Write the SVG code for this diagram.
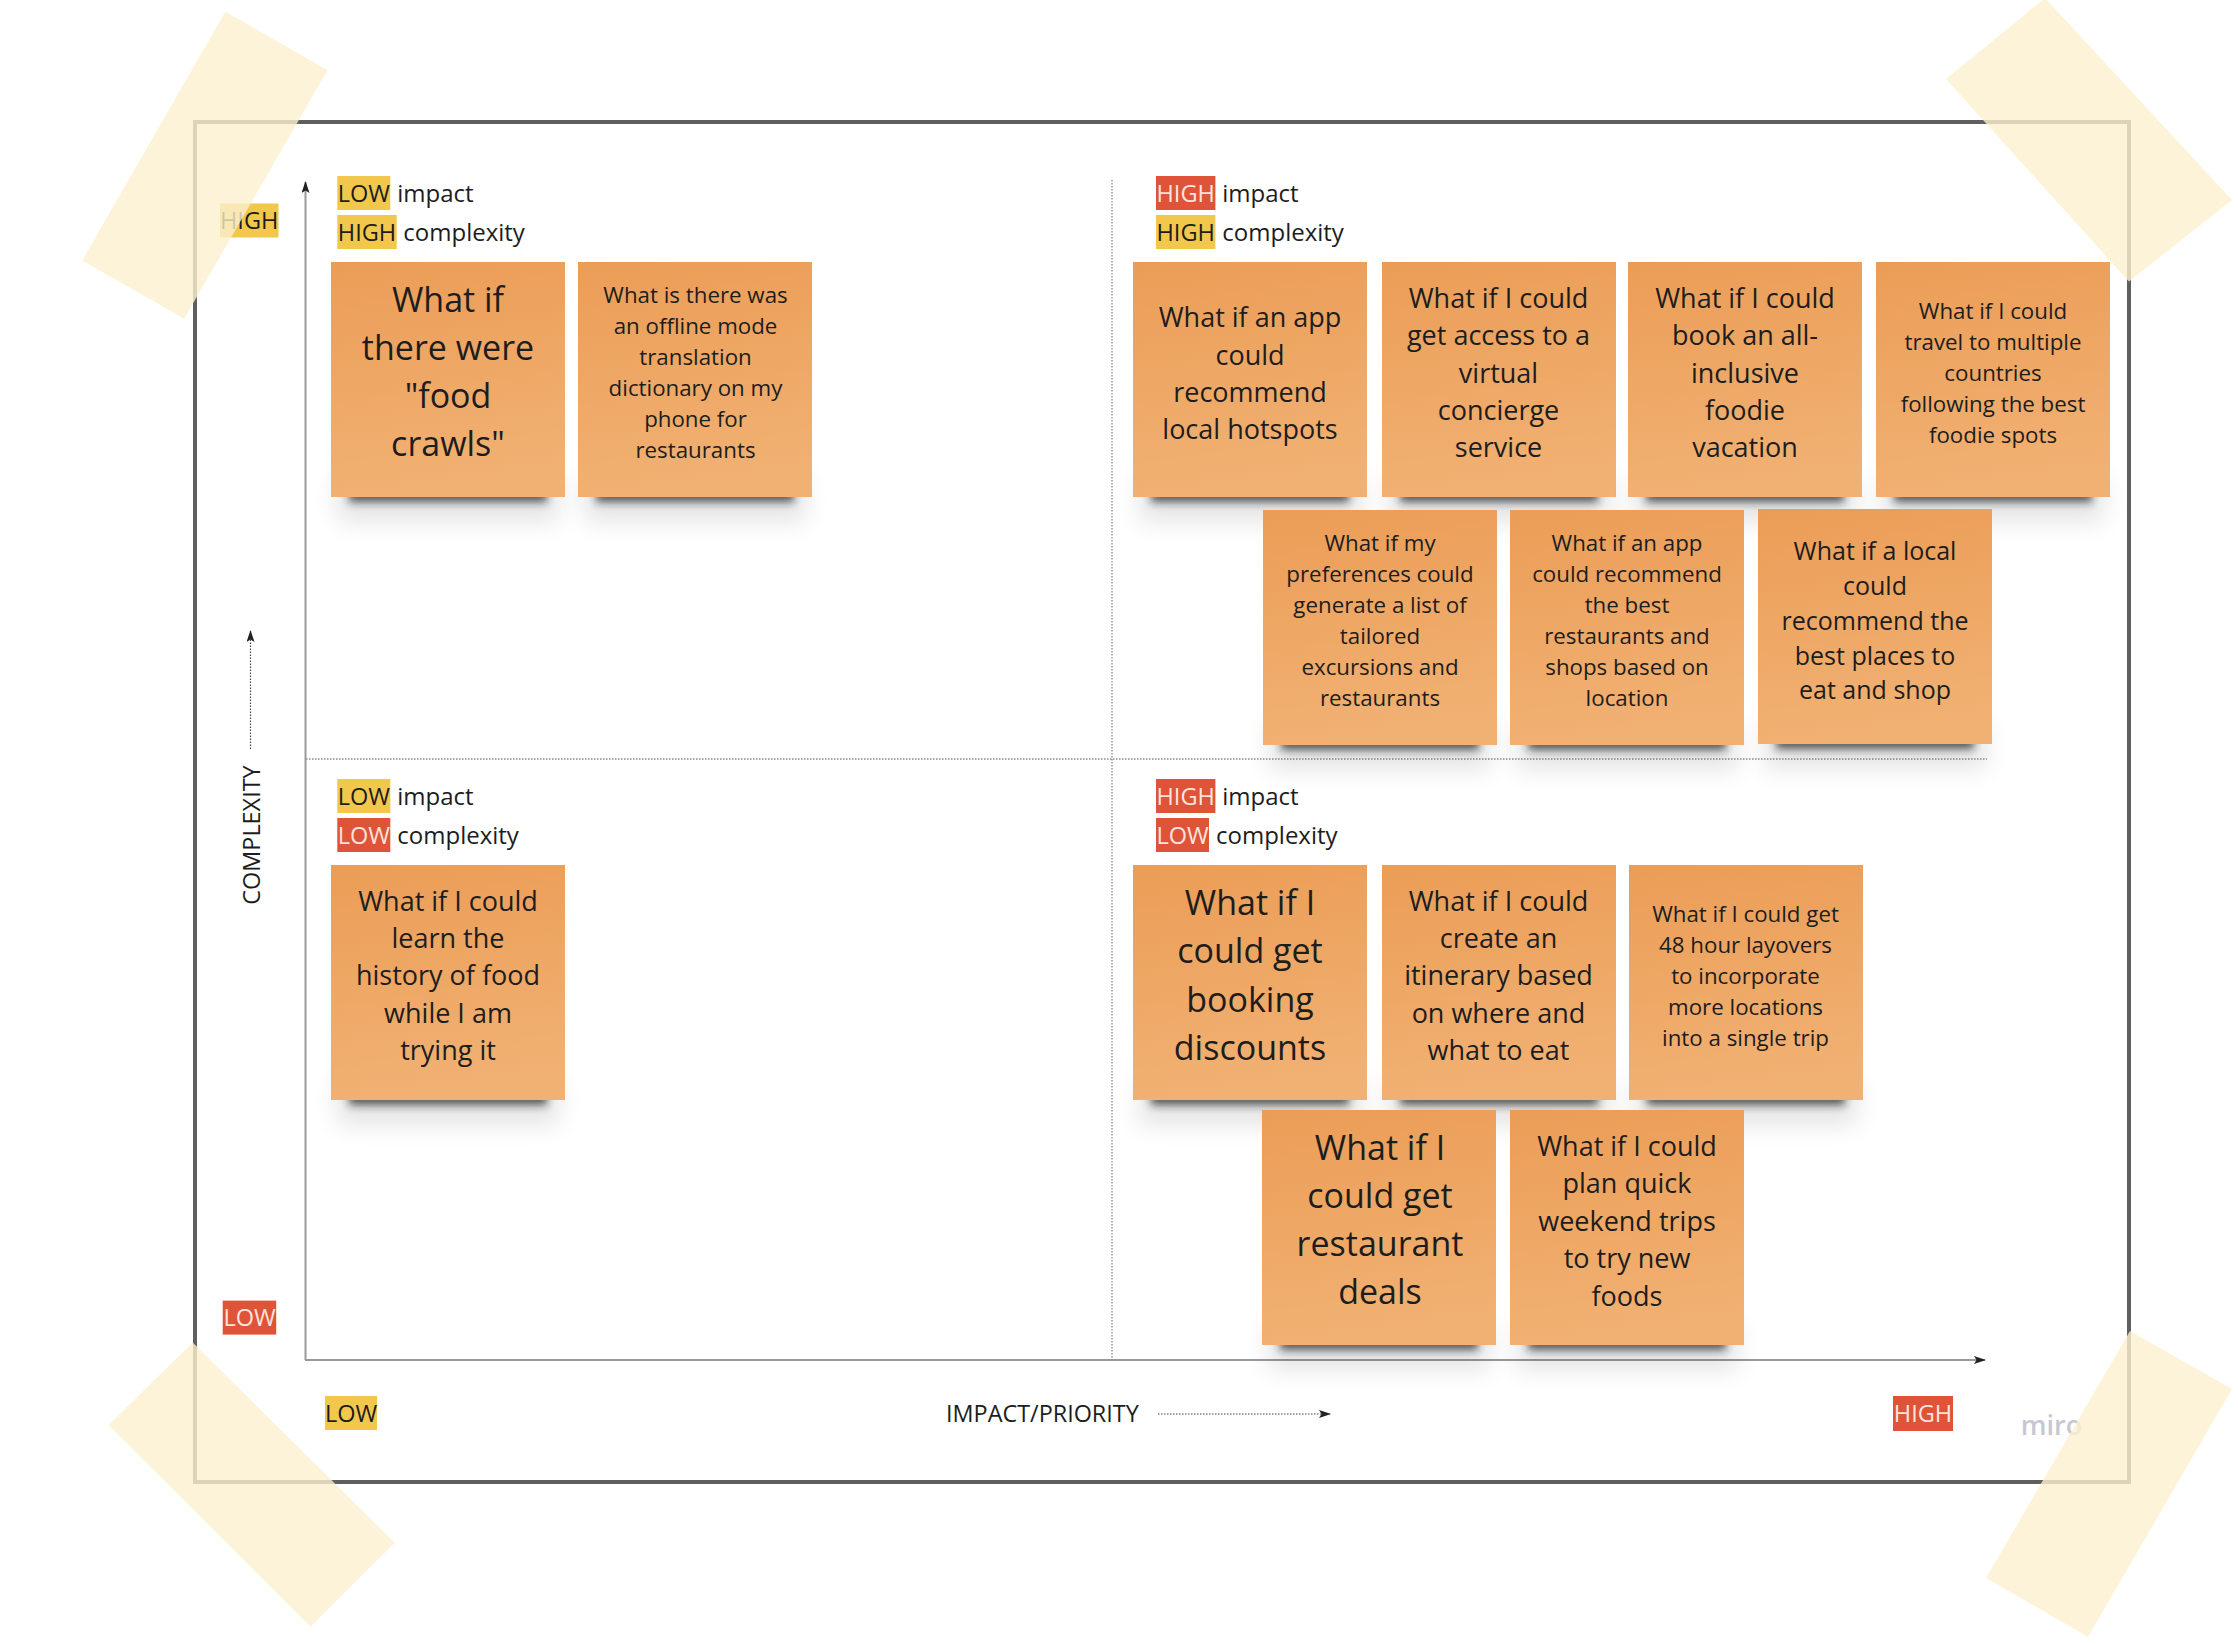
<svg xmlns="http://www.w3.org/2000/svg" width="2238" height="1644" viewBox="0 0 2238 1644">
<style>
  .t{font-family:"Open Sans","Liberation Sans",sans-serif;fill:#1d1d1d;text-anchor:middle}
  .f34{font-size:34px}
  .f27{font-size:27px}
  .f25{font-size:25px}
  .f22{font-size:22.3px}
  .hdr{font-family:"Open Sans","Liberation Sans",sans-serif;font-size:24px;fill:#1d1d1d}
  .tagtxt{font-family:"Open Sans","Liberation Sans",sans-serif;font-size:23.5px;text-anchor:middle}
  .tY{fill:#f1c84b}
  .tR{fill:#df5438}
  .dY{fill:#1d1d1d}
  .dR{fill:#fbe3de}
  .axis{stroke:#9a9a9a;stroke-width:2;fill:none}
  .div{stroke:#8a8a8a;stroke-width:1.3;stroke-dasharray:1.5 1.5;fill:none}
  .dotarr{stroke:#444;stroke-width:1.2;stroke-dasharray:1.5 1.5;fill:none}
  .lbl{font-family:"Open Sans","Liberation Sans",sans-serif;font-size:23.4px;fill:#1d1d1d}
  .tape{fill:#fbf0cf;opacity:0.8}
</style>
<defs>
  <linearGradient id="stk" x1="0" y1="0" x2="0.15" y2="1">
    <stop offset="0" stop-color="#eb9d56"/>
    <stop offset="1" stop-color="#f1b173"/>
  </linearGradient>
  <filter id="b1" x="-20%" y="-100%" width="140%" height="300%"><feGaussianBlur stdDeviation="4"/></filter>
  <filter id="b2" x="-30%" y="-100%" width="160%" height="300%"><feGaussianBlur stdDeviation="12"/></filter>
  <marker id="arr" viewBox="0 0 12 8" refX="11" refY="4" markerWidth="12" markerHeight="8" orient="auto" markerUnits="userSpaceOnUse">
    <path d="M0,0 L12,4 L0,8 L2.5,4 z" fill="#222"/>
  </marker>
  <g id="nb">
    <rect x="6" y="214" width="222" height="46" fill="#000" opacity="0.1" filter="url(#b2)"/>
    <rect x="18" y="224" width="198" height="16" fill="#1e1e1e" opacity="0.7" filter="url(#b1)"/>
    <rect x="0" y="0" width="234" height="235" fill="url(#stk)"/>
  </g>
</defs>

<rect x="0" y="0" width="2238" height="1644" fill="#ffffff"/>

<g id="frame">
  <rect x="195" y="122" width="1934" height="1360" fill="#ffffff" stroke="#5f5f5f" stroke-width="4"/>
</g>

<g id="connectors">
  <line class="div" x1="1112" y1="180" x2="1112" y2="1359"/>
  <line class="div" x1="306" y1="759" x2="1987" y2="759"/>
  <line class="axis" x1="305.5" y1="1360" x2="305.5" y2="182" marker-end="url(#arr)"/>
  <line class="axis" x1="305" y1="1360" x2="1985" y2="1360" marker-end="url(#arr)"/>
  <line class="dotarr" x1="250.5" y1="749" x2="250.5" y2="631" marker-end="url(#arr)"/>
  <line class="dotarr" x1="1158" y1="1414" x2="1330" y2="1414" marker-end="url(#arr)"/>
</g>

<g id="axis-labels">
  <text class="lbl" text-anchor="middle" transform="translate(260,835) rotate(-90)">COMPLEXITY</text>
  <text class="lbl" x="946" y="1422.3">IMPACT/PRIORITY</text>
  <rect class="tY" x="220" y="203.5" width="58.5" height="34"/>
  <text class="tagtxt dY" x="249.2" y="229">HIGH</text>
  <rect class="tR" x="222.7" y="1300.6" width="53.5" height="34"/>
  <text class="tagtxt dR" x="249.5" y="1326.3">LOW</text>
  <rect class="tY" x="325" y="1396" width="52" height="34"/>
  <text class="tagtxt dY" x="351" y="1421.7">LOW</text>
  <rect class="tR" x="1893" y="1396" width="60" height="35"/>
  <text class="tagtxt dR" x="1923" y="1422">HIGH</text>
  <text x="2020.7" y="1435" font-family="Open Sans, Liberation Sans, sans-serif" font-weight="600" font-size="27" fill="#c6c7d2">miro</text>
</g>

<g id="header-tl">
  <rect class="tY" x="337.3" y="176" width="53" height="34"/>
  <text class="tagtxt dY" x="363.8" y="201.7">LOW</text>
  <text class="hdr" x="397.3" y="201.7">impact</text>
  <rect class="tY" x="337.3" y="215" width="59.4" height="34"/>
  <text class="tagtxt dY" x="367" y="240.7">HIGH</text>
  <text class="hdr" x="403.3" y="240.7">complexity</text>
</g>
<g id="header-tr">
  <rect class="tR" x="1156" y="176" width="59.4" height="34"/>
  <text class="tagtxt dR" x="1185.7" y="201.7">HIGH</text>
  <text class="hdr" x="1222.3" y="201.7">impact</text>
  <rect class="tY" x="1156" y="215" width="59.4" height="34"/>
  <text class="tagtxt dY" x="1185.7" y="240.7">HIGH</text>
  <text class="hdr" x="1222.3" y="240.7">complexity</text>
</g>
<g id="header-bl">
  <rect class="tY" x="337.3" y="779" width="53" height="34"/>
  <text class="tagtxt dY" x="363.8" y="804.7">LOW</text>
  <text class="hdr" x="397.3" y="804.7">impact</text>
  <rect class="tR" x="337.3" y="818" width="53" height="34"/>
  <text class="tagtxt dR" x="363.8" y="843.7">LOW</text>
  <text class="hdr" x="397.3" y="843.7">complexity</text>
</g>
<g id="header-br">
  <rect class="tR" x="1156" y="779" width="59.4" height="34"/>
  <text class="tagtxt dR" x="1185.7" y="804.7">HIGH</text>
  <text class="hdr" x="1222.3" y="804.7">impact</text>
  <rect class="tR" x="1156" y="818" width="53" height="34"/>
  <text class="tagtxt dR" x="1182.5" y="843.7">LOW</text>
  <text class="hdr" x="1216" y="843.7">complexity</text>
</g>

<g id="note-food-crawls">
  <use href="#nb" x="331" y="262"/>
  <text class="t f34"><tspan x="448" y="311.7">What if</tspan><tspan x="448" y="360">there were</tspan><tspan x="448" y="408.3">"food</tspan><tspan x="448" y="456.4">crawls"</tspan></text>
</g>
<g id="note-offline-dictionary">
  <use href="#nb" x="578" y="262"/>
  <text class="t f22"><tspan x="695.5" y="302.7">What is there was</tspan><tspan x="695.5" y="333.5">an offline mode</tspan><tspan x="695.5" y="364.5">translation</tspan><tspan x="695.5" y="395.5">dictionary on my</tspan><tspan x="695.5" y="426.5">phone for</tspan><tspan x="695.5" y="457.5">restaurants</tspan></text>
</g>

<g id="note-local-hotspots">
  <use href="#nb" x="1133" y="262"/>
  <text class="t f27"><tspan x="1250" y="327.2">What if an app</tspan><tspan x="1250" y="364.5">could</tspan><tspan x="1250" y="401.8">recommend</tspan><tspan x="1250" y="439.1">local hotspots</tspan></text>
</g>
<g id="note-concierge">
  <use href="#nb" x="1382" y="262"/>
  <text class="t f27"><tspan x="1498.5" y="307.8">What if I could</tspan><tspan x="1498.5" y="345.2">get access to a</tspan><tspan x="1498.5" y="382.6">virtual</tspan><tspan x="1498.5" y="420">concierge</tspan><tspan x="1498.5" y="457.4">service</tspan></text>
</g>
<g id="note-all-inclusive">
  <use href="#nb" x="1628" y="262"/>
  <text class="t f27"><tspan x="1745" y="307.8">What if I could</tspan><tspan x="1745" y="345.2">book an all-</tspan><tspan x="1745" y="382.6">inclusive</tspan><tspan x="1745" y="420">foodie</tspan><tspan x="1745" y="457.4">vacation</tspan></text>
</g>
<g id="note-multiple-countries">
  <use href="#nb" x="1876" y="262"/>
  <text class="t f22"><tspan x="1993" y="319">What if I could</tspan><tspan x="1993" y="350">travel to multiple</tspan><tspan x="1993" y="381">countries</tspan><tspan x="1993" y="412">following the best</tspan><tspan x="1993" y="443">foodie spots</tspan></text>
</g>
<g id="note-preferences">
  <use href="#nb" x="1263" y="510"/>
  <text class="t f22"><tspan x="1380" y="550.5">What if my</tspan><tspan x="1380" y="581.5">preferences could</tspan><tspan x="1380" y="612.5">generate a list of</tspan><tspan x="1380" y="643.5">tailored</tspan><tspan x="1380" y="674.5">excursions and</tspan><tspan x="1380" y="705.5">restaurants</tspan></text>
</g>
<g id="note-app-location">
  <use href="#nb" x="1510" y="510"/>
  <text class="t f22"><tspan x="1627" y="550.5">What if an app</tspan><tspan x="1627" y="581.5">could recommend</tspan><tspan x="1627" y="612.5">the best</tspan><tspan x="1627" y="643.5">restaurants and</tspan><tspan x="1627" y="674.5">shops based on</tspan><tspan x="1627" y="705.5">location</tspan></text>
</g>
<g id="note-local">
  <use href="#nb" x="1758" y="509"/>
  <text class="t f25"><tspan x="1875" y="559.8">What if a local</tspan><tspan x="1875" y="594.7">could</tspan><tspan x="1875" y="629.6">recommend the</tspan><tspan x="1875" y="664.5">best places to</tspan><tspan x="1875" y="699.4">eat and shop</tspan></text>
</g>

<g id="note-history">
  <use href="#nb" x="331" y="865"/>
  <text class="t f27"><tspan x="448" y="910.7">What if I could</tspan><tspan x="448" y="948">learn the</tspan><tspan x="448" y="985.3">history of food</tspan><tspan x="448" y="1022.6">while I am</tspan><tspan x="448" y="1060">trying it</tspan></text>
</g>

<g id="note-booking-discounts">
  <use href="#nb" x="1133" y="865"/>
  <text class="t f34"><tspan x="1250" y="915">What if I</tspan><tspan x="1250" y="963.3">could get</tspan><tspan x="1250" y="1011.6">booking</tspan><tspan x="1250" y="1060">discounts</tspan></text>
</g>
<g id="note-itinerary">
  <use href="#nb" x="1382" y="865"/>
  <text class="t f27"><tspan x="1498.5" y="910.7">What if I could</tspan><tspan x="1498.5" y="948">create an</tspan><tspan x="1498.5" y="985.3">itinerary based</tspan><tspan x="1498.5" y="1022.6">on where and</tspan><tspan x="1498.5" y="1060">what to eat</tspan></text>
</g>
<g id="note-layovers">
  <use href="#nb" x="1629" y="865"/>
  <text class="t f22"><tspan x="1745.5" y="922.3">What if I could get</tspan><tspan x="1745.5" y="953.3">48 hour layovers</tspan><tspan x="1745.5" y="984.3">to incorporate</tspan><tspan x="1745.5" y="1015.3">more locations</tspan><tspan x="1745.5" y="1046.3">into a single trip</tspan></text>
</g>
<g id="note-restaurant-deals">
  <use href="#nb" x="1262" y="1110"/>
  <text class="t f34"><tspan x="1380" y="1159.5">What if I</tspan><tspan x="1380" y="1207.8">could get</tspan><tspan x="1380" y="1256.1">restaurant</tspan><tspan x="1380" y="1304.4">deals</tspan></text>
</g>
<g id="note-weekend-trips">
  <use href="#nb" x="1510" y="1110"/>
  <text class="t f27"><tspan x="1627" y="1156">What if I could</tspan><tspan x="1627" y="1193.4">plan quick</tspan><tspan x="1627" y="1230.8">weekend trips</tspan><tspan x="1627" y="1268.2">to try new</tspan><tspan x="1627" y="1305.6">foods</tspan></text>
</g>

<g id="tapes">
  <polygon class="tape" points="225.5,11.5 327.6,70.2 184.2,318.7 82.1,260.5"/>
  <polygon class="tape" points="2045,-2 2232,200 2129,281.5 1946,79"/>
  <polygon class="tape" points="192.7,1342.6 394.7,1542.8 310.5,1626.7 108.5,1424.9"/>
  <polygon class="tape" points="2130,1331 2232,1389 2088,1637 1986,1578"/>
</g>
</svg>
